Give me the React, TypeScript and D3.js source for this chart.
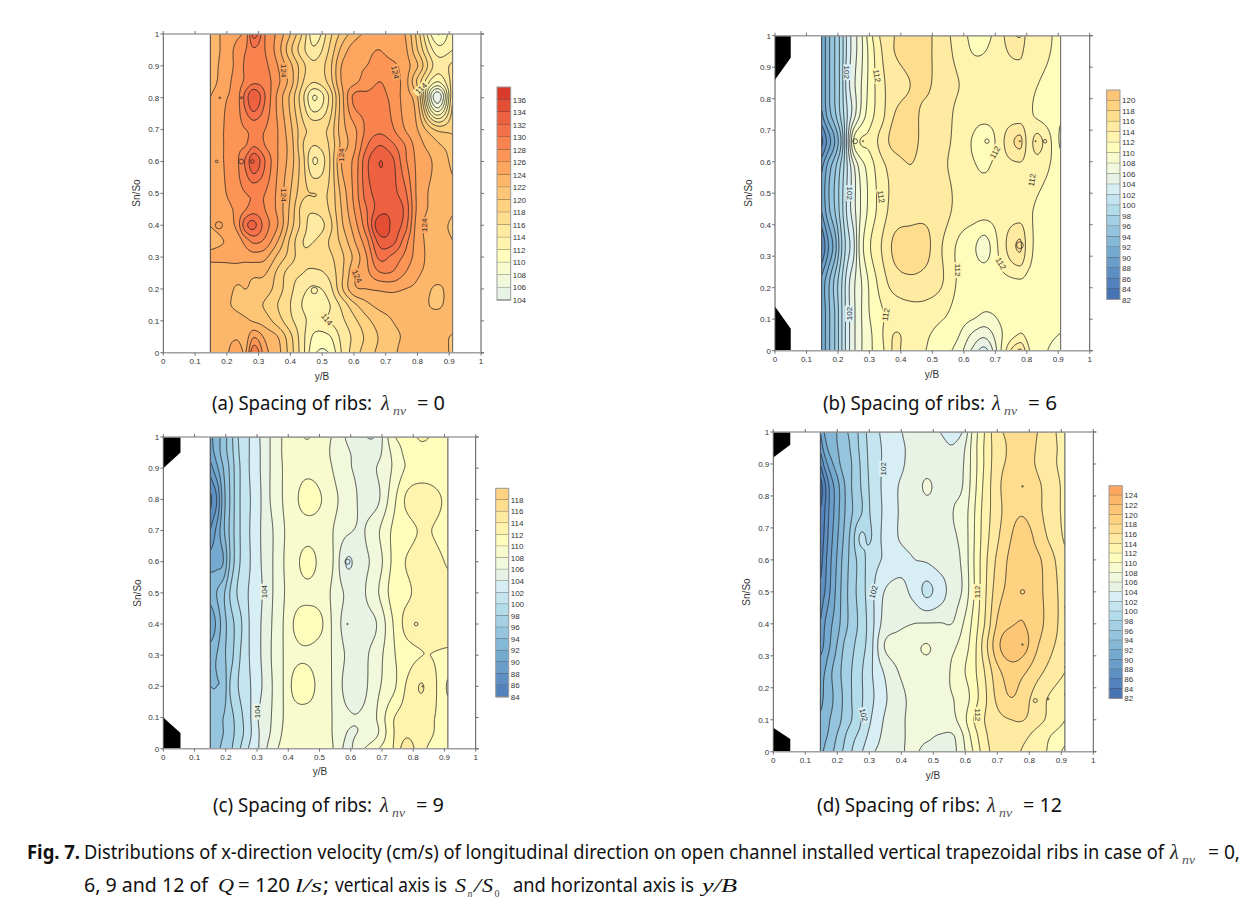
import React from "react";
import * as d3 from "d3";

// ---------- colour bands (lower bound of each band -> fill) ----------
const bandLevels = [80,82,84,86,88,90,92,94,96,98,100,102,104,106,108,110,112,114,116,118,120,122,124,126,128,130,132,134,136];
const bandColors = ["#3f6db0","#4674b3","#5281bb","#5e8fc3","#6a9dca","#75aad0","#85b7d7","#94c4de","#a3d0e5","#b2dcea","#c4e5f0","#d8eef5","#e8f3e6","#f1f8dc","#f8fbcd","#fffdbb","#fff3ad","#feeaa0","#fede8e","#fed280","#fdc576","#fdb76a","#fda65f","#fb9455","#f8834e","#f47048","#ed6040","#e34e35","#d93b2a"];

const tickValues = [0,0.1,0.2,0.3,0.4,0.5,0.6,0.7,0.8,0.9,1];

// ---------- panel (a) ----------
const aX = [.148,.19,.23,.26,.285,.32,.36,.40,.44,.475,.52,.56,.60,.64,.68,.72,.76,.80,.86,.91];
const aY = [1,.95,.9,.85,.8,.7,.65,.6,.5,.45,.4,.35,.3,.25,.2,.15,.1,.05,0];
const aZ = [
[122.5,124.5,125.5,127,133,128,125.5,122,117.5,112.5,117,120.5,123,124.5,125,125,124,119,110,113.5],
[122.8,124.5,126.5,128,129.7,128,125,120.5,116.5,114.5,118,122.5,125,125.5,126,125,124.5,120,113,114],
[123,124.7,126.5,128.5,129.5,128.5,126,122.5,118.5,116.5,119,124,125.5,126,127,126.5,125,122,115,116.5],
[123,125,126.8,128.5,129.6,129,126.5,123,118,116.1,118.5,124,125.5,127,128,127,125,119.5,112,117],
[124,125.7,127,131,134,130,125.5,121.5,116.3,111.8,116,123,128.5,128.5,128.5,127.5,125,122,104.5,118],
[124.5,126,127.3,128,128.5,128,126,122.5,118.5,117.5,118.3,123,125.5,128.5,129.5,128.3,126,124,119.6,119.6],
[124.8,126,127.5,128,129.8,128,126,123,118,116,118,122.5,125.5,129.8,132,130.5,128,125,122.5,121],
[124.8,126,127.5,130.5,133.6,130,126,123,118.5,113.8,117.5,124,126.5,131.5,134,132.5,128.5,125.5,123.5,121.5],
[124.3,125.7,127.2,128,128.3,128,125.5,122,118.5,118,118.2,122.5,126.5,131,132.8,132.6,130.5,125.5,123.3,122.5],
[124,125,126.5,128,129,128,125.5,121.5,117,116.5,118,122,126,130,133,133.4,131.5,125.5,123.3,122.2],
[124,124.7,126.5,131.5,132.5,129,126,121,117,114.8,117,121.5,125,129.5,135.5,133.5,131,125,122.8,121.7],
[123.5,124,124.5,127,128.5,127.5,124,119.5,116,116,118,120.5,123.8,127.5,132.8,132.8,129,125,122.8,122],
[124.3,124.4,124.5,124.8,125,124.5,121.5,119,116.5,117,117.5,119.5,122.5,126,130.5,129.5,127.5,125,122.7,122.1],
[123,123,123,122.5,122.4,122.2,119.5,117,116,115.5,116.5,119.5,123.5,125.5,127.8,127.8,126,124.3,123,122.8],
[122.8,123,121.8,122,121.5,121,119,116.5,114.5,113.7,115,119.5,123.5,124,124.3,124.5,124,123.5,121.7,123],
[122.5,122.3,121.7,121,120.5,119.8,118,116,113.8,112.8,113.8,116.5,119.5,121.5,122.6,122.8,122.8,122.8,121.7,123],
[122.5,122.7,122.7,122.3,121.8,121,119,116.5,114.5,113,114,115.5,117.5,119.5,121,122,122.5,122.8,122.9,123],
[122.7,123.2,123.7,123.2,125.8,123.6,122,118.5,114.5,111.6,111.7,114.5,116.5,118.5,120.2,121.5,122.2,122.5,122.7,121.8],
[122.5,123,125.5,124,130,124.8,122.8,119,114.5,110.3,110,114,117,119,120.5,121.5,122.7,122.7,124,121.2],
];

// ---------- panel (b) ----------
const bX = [.148,.17,.19,.21,.23,.25,.27,.3,.34,.38,.43,.48,.53,.58,.63,.67,.72,.78,.805,.84,.91];
const bY = [1,.95,.85,.75,.665,.58,.45,.33,.22,.12,.05,0];
const bZ = [
[90,93.5,96,98.8,102.5,105,107,111,114.5,116,116.8,116.5,115,113.2,111.5,111.3,113.5,116.2,113,113.6,110.8],
[90,93.5,96,98.8,102.5,105,107,110.5,114,116,116.8,116.5,115,113.5,111.9,112,113.5,114.5,113,113,111],
[90,93.5,96,98.8,103,105.5,107.5,110.5,113.5,115,116,116.4,115,114.1,113.4,113.3,113.2,113,112.8,112,110.8],
[89.5,93,95.5,98.5,102,105,108,111,113.4,116,116.5,115.5,114.8,113.7,113,113,113,112.8,112.5,111.5,110.3],
[85.5,89,92,96,103,110,112,112.5,114.8,116.7,116.8,115.2,114.4,113.6,111.8,110.2,113.4,116.5,113.5,114.6,109.6],
[89.5,93,95.5,98.5,102,105.5,108.5,110.8,113.4,114.8,115.9,115,114.3,113.5,112.3,111.8,113,113.4,113,112.8,111],
[90,93.5,96,99,102.5,105.2,107.8,110.5,113,114.8,115.2,115.4,115,113.5,113,112.9,112.8,112.6,112.3,111.7,110.7],
[86,90,93,97.5,101,103.5,108.5,111.7,114.1,116.4,117,116.6,114.1,111.8,110.4,109.2,112.8,116.3,113,111.5,111],
[90.5,93.5,96.5,99.5,103,105.5,107.5,110.3,113,115,115.6,115.2,114.2,111.9,111.5,111.4,111.5,111.8,111.6,111.5,110.8],
[90,93.5,96,99.5,103,105.5,107.5,110,111.8,112.8,113.2,113.2,112.5,111.3,110.7,109.9,110.5,111.3,111.3,111,110.8],
[90,93.5,96,99.5,103,105.5,107.5,109.5,111.8,114.1,113.2,112.3,111.2,110.3,107.6,106.6,109.8,112.2,111.5,110.8,109.9],
[90,93.5,96,99.5,103,105.5,107.5,109.5,111.5,114.3,112.8,112,110.8,109.3,105.5,103.3,110,116.5,112.5,110.8,109],
];

// ---------- panel (c) ----------
const cX = [.15,.171,.192,.213,.24,.272,.304,.342,.384,.421,.464,.507,.544,.587,.64,.683,.736,.779,.832,.912];
const cY = [1,.95,.9,.8,.7,.6,.5,.4,.3,.2,.1,.05,0];
const cZ = [
[91.5,93,95,97,100,101.8,103.7,106,108.2,109.3,110.1,108.7,107.8,105.8,104.2,104.3,109.6,110.8,112.3,110.1],
[91,92.8,95,96.8,99.8,101.8,103.6,106,108.2,109.1,109.4,108.9,107.6,106.3,105.2,105.2,108.5,110.5,111.3,110.5],
[89,91.5,94,96.3,99.5,101.8,103.6,106,108.1,109.2,109.5,109,107.9,106.4,105.5,106,108.2,110.2,110.8,110.7],
[85.5,88,93,96,99.5,101.6,103.4,106,108.1,109.6,110.8,110,108.5,107.2,105.5,105.5,109.3,112.3,113.2,111.5],
[88,90.5,93.5,96.3,99.5,101.7,103.6,105.5,107.8,109,109.3,109,108,106.4,105.9,107.5,110.3,111.2,112.2,111.2],
[91,91.3,92,96,99.5,101.6,103.5,105.5,107.9,109.4,110.7,109.3,108,103.9,105.5,106.8,110.4,112.1,113,111.8],
[93,94,95.5,98,100.3,102,103.3,105.5,107.8,109.2,109.5,109,107.6,105.7,105.8,107.6,110.8,111.6,112.8,112.6],
[90,92.5,95,97,99,101.8,103.5,105.7,108,110.2,110.9,110.2,107.6,105.2,105.4,106,110,112.6,113.2,112.5],
[93.5,94,95.5,97,99.5,101.8,103.5,105.8,108,109.5,109.7,108.9,107.8,105.8,105.6,107,109.7,111.2,112,111.7],
[94,94,94.5,98,100,101.6,103.3,105.6,108,110.6,110.8,109,107.8,105.4,105.5,107.5,109.5,112.2,114.05,109.7],
[94,95,96,97.2,99,101.3,104,105.8,108,109,109.1,108.7,107.9,106.3,106.3,108,111.8,112.8,112.6,111.2],
[94.5,95.2,96,97.2,98.8,101.2,103.8,106,108.2,109,109,108.6,107.9,106,106.3,107.6,111.8,113.6,112.6,111.2],
[94.5,95.5,96.5,97.5,99.5,102,103.9,106.7,108.6,109,109,108.8,108,105.6,107.8,109.7,112,115,112.3,111],
];

// ---------- panel (d) ----------
const dX = [.147,.161,.177,.198,.219,.245,.271,.302,.344,.391,.438,.479,.521,.563,.594,.625,.661,.703,.745,.786,.833,.913];
const dY = [1,.95,.9,.83,.75,.67,.6,.5,.4,.33,.25,.17,.1,.05,0];
const dZ = [
[90,92.3,93,94,95.5,96.5,98.5,100.7,102.4,103.7,104.7,104.6,104,103.3,104.2,108.5,112,115.5,116.3,117,115.8,113],
[88.5,91,92.7,93.8,95,96.3,98.3,100.5,102.2,103.5,104.5,105,104.6,104.2,105.5,108.8,112.2,115.2,116.3,117,115.6,113.3],
[86,88.8,91,93,94.8,96,98,100.4,102.2,103.5,104.6,105,105,105.1,105.9,108.8,112.2,115.3,116.4,117,115.5,113.3],
[83,85.5,88.5,91,93.5,96,97.8,100.2,102.3,104,104.8,106.3,105.3,105.6,106.1,109,112.5,115.5,117.3,117.9,116.2,113.5],
[84,86,88.5,91,93.5,95.8,97.5,100,102.2,104,104.6,105,105.4,106,106.8,109.5,112.8,115.3,117.4,117.8,116.3,113.5],
[84.5,86.5,89,91.5,94,96.8,100.2,99.8,102.4,104,104.6,105,105.5,105.8,106.7,109.6,113,115.8,118,119,117,113.7],
[85,87.2,89.5,92,94.5,96.8,98.8,100.8,102.2,103.4,103.95,104.2,105,105.4,106.5,109.7,113.3,116.5,118.5,119.3,118.2,114.5],
[86.5,88,90,92.5,94.8,97,98.8,101,103.9,104.6,103.5,101.6,103,105.1,106.3,109.6,113.5,117.2,118.7,119.6,118.4,115],
[88,90,91.5,93,95,96.8,98.5,100.8,104.5,105.5,106,106.1,106.1,106.1,108,110.5,114,118.4,119.8,120,118.5,115],
[89,90.5,92,94,96,97.5,99,101,105.8,107,107.6,108.1,107.5,107.7,109,111,115,119.5,121.5,120.6,117.8,114.8],
[91.5,92,93.5,95,96.5,98,99.5,101.5,104,106,107,107.3,107.4,108.3,109.7,111.3,114,117.5,118.9,118.2,116.4,114],
[91.5,92.3,93.3,94.8,96.2,98,99.5,101.3,103.5,105.3,106.6,107.6,107.7,108,108.8,110.8,113.5,116.6,118,116.8,114.8,112.5],
[92.3,92.8,94,95,96.5,98,99.7,101.8,104,105.5,106.5,107.2,107.3,107.6,109.2,111.8,114,115.5,116,116,114.5,112],
[93,93.6,94.5,96,97.5,99.3,100.5,102.5,104.3,105.6,106.3,106.3,105.9,105.9,108,110.8,113.5,115.4,115.8,114.5,113,110.8],
[93.5,94.3,95.3,96.7,98.2,100,101.5,103.5,104.6,105.7,106.2,105.6,105.5,105.5,107.5,110,113,115,115.2,113.5,112.8,109.5],
];

// ---------- contour labels: [y/B, Sn/So, rotation, text, level] ----------
const aLabels = [[.38,.885,90,"124",124],[.38,.495,90,"124",124],[.56,.62,-90,"124",124],[.61,.24,65,"124",124],[.82,.4,-90,"124",124],[.73,.88,78,"124",124],[.515,.105,50,"114",114],[.81,.83,-45,"114",114]];
const bLabels = [[.23,.884,90,"102",102],[.238,.5,90,"102",102],[.235,.118,-90,"102",102],[.325,.873,80,"112",112],[.338,.489,80,"112",112],[.352,.115,-80,"112",112],[.583,.256,90,"112",112],[.70,.63,-60,"112",112],[.72,.277,60,"112",112],[.818,.542,-80,"112",112]];
const cLabels = [[.322,.504,-90,"104",104],[.299,.119,-90,"104",104]];
const dLabels = [[.342,.885,-90,"102",102],[.3125,.5,-75,"102",102],[.283,.115,75,"102",102],[.6375,.5,-90,"112",112],[.64,.115,90,"112",112]];

// tiny closed contours around single survey points: [y/B, Sn/So, radius]
const aRings = [[.175,.4,3.6],[.245,.6,2.4],[.168,.6,1.3],[.178,.8,.9],[.246,.8,1.1],[.28,.6,1.8],[.19,.205,0],[.475,.195,3.2]];
const bRings = [[.255,.665,2.4],[.28,.665,.6],[.675,.665,2.2],[.78,.665,.6],[.83,.665,.6],[.86,.665,1.8],[.25,.33,0],[.78,.335,3.4]];
const cRings = [[.81,.4,1.8],[.59,.4,.7],[.83,.2,.6],[.59,.6,2.6]];
const dRings = [[.78,.83,.8],[.78,.5,2.2],[.78,.335,.8],[.82,.16,2],[.86,.165,1],[.915,.45,1],[.915,.335,1],[.915,.265,1],[.915,.18,1]];

// black trapezoids, as [y/B, Sn/So]
const bRibs = [[[0,1],[.05,1],[.05,.93],[0,.86]],[[0,0],[.05,0],[.05,.07],[0,.14]]];
const cRibs = [[[0,1],[.055,1],[.055,.95],[0,.9]],[[0,0],[.055,0],[.055,.05],[0,.1]]];
const dRibs = [[[0,1],[.053,1],[.053,.96],[0,.92]],[[0,0],[.053,0],[.053,.04],[0,.075]]];

const FONT = "'Liberation Sans', Arial, sans-serif";
const CAP = "'Noto Sans', sans-serif";
const SERIF = "'Liberation Serif', serif";

function bandColor(v: number) {
  const i = Math.max(0, d3.bisectRight(bandLevels, v) - 1);
  return bandColors[i];
}

// Catmull-Rom style cubic through unevenly spaced samples
function cubic(xs: number[], vs: number[], x: number) {
  const n = xs.length;
  const asc = xs[n - 1] > xs[0];
  let i = 0;
  while (i < n - 2 && (asc ? x > xs[i + 1] : x < xs[i + 1])) i++;
  const h = xs[i + 1] - xs[i];
  const t = Math.max(0, Math.min(1, (x - xs[i]) / h));
  const slope = (k: number) => {
    if (k === 0) return (vs[1] - vs[0]) / (xs[1] - xs[0]);
    if (k === n - 1) return (vs[n - 1] - vs[n - 2]) / (xs[n - 1] - xs[n - 2]);
    return (vs[k + 1] - vs[k - 1]) / (xs[k + 1] - xs[k - 1]);
  };
  const t2 = t * t, t3 = t2 * t;
  return (2*t3-3*t2+1)*vs[i] + (t3-2*t2+t)*h*slope(i) + (-2*t3+3*t2)*vs[i+1] + (t3-t2)*h*slope(i+1);
}

function fineField(X: number[], Y: number[], Z: number[][], nx: number, ny: number) {
  const x0 = X[0], x1 = X[X.length - 1];
  const fx = d3.range(nx).map(i => x0 + (x1 - x0) * (i + 0.5) / nx);
  const fy = d3.range(ny).map(j => 1 - (j + 0.5) / ny);
  const byRow = Z.map(r => fx.map(x => cubic(X, r, x)));
  const out = new Array(nx * ny);
  for (let i = 0; i < nx; i++) {
    const col = byRow.map(r => r[i]);
    for (let j = 0; j < ny; j++) out[j * nx + i] = cubic(Y, col, fy[j]);
  }
  return out;
}

type PanelProps = {
  id: string; X: number[]; Y: number[]; Z: number[][];
  labels: any[]; rings: number[][]; ribs?: number[][][];
  left: number; right: number; top: number; bottom: number; xEnd: number;
  legend: [number, number, number, number]; legendLevels: number[];
  ylab: [number, number]; xlab: [number, number];
};

function Panel(p: PanelProps) {
  const x = d3.scaleLinear().domain([0, 1]).range([p.left, p.right]);
  const y = d3.scaleLinear().domain([0, 1]).range([p.bottom, p.top]);
  const rx0 = x(p.X[0]), rx1 = p.xEnd;
  const x2 = (v: number) => rx0 + (v - p.X[0]) / (p.X[p.X.length - 1] - p.X[0]) * (rx1 - rx0);
  const nx = Math.round(rx1 - rx0), ny = Math.round(p.bottom - p.top);
  const field = fineField(p.X, p.Y, p.Z, nx, ny);
  const conts = d3.contours().size([nx, ny]).smooth(true).thresholds(bandLevels)(field);
  const path = d3.geoPath();
  const clip = `clip-${p.id}`;
  const sx = (rx1 - rx0) / nx, sy = (p.bottom - p.top) / ny;
  const lvls = [...p.legendLevels].sort((a, b) => b - a);
  const [lx, ly, lw, lh] = p.legend;
  const cell = lh / lvls.length;
  const tc = "#555";
  return (
    <g>
      <defs><clipPath id={clip}><rect x={rx0} y={p.top} width={rx1 - rx0} height={p.bottom - p.top} /></clipPath></defs>
      <g clipPath={`url(#${clip})`}>
        <rect x={rx0} y={p.top} width={rx1 - rx0} height={p.bottom - p.top} fill={bandColors[0]} />
        <g transform={`translate(${rx0},${p.top}) scale(${sx},${sy})`}>
          {conts.map((c, i) => c.coordinates.length ? (
            <path key={i} d={path(c as any) || ""} fill={bandColors[i]} stroke="#222" strokeWidth={0.9} vectorEffect="non-scaling-stroke" strokeOpacity={0.9} />
          ) : null)}
        </g>
        {p.rings.filter(r => r[2] > 0).map((r, i) => (
          <circle key={i} cx={x2(r[0])} cy={y(r[1])} r={r[2]} fill="none" stroke="#222" strokeWidth={0.8} strokeOpacity={0.9} />
        ))}
      </g>
      {p.labels.map((l, i) => (
        <g key={i} transform={`translate(${x2(l[0])},${y(l[1])}) rotate(${l[2]})`}>
          <rect x={-8} y={-4} width={16} height={8} fill={bandColor(l[4])} />
          <text textAnchor="middle" y={3} fontSize={8} fontFamily={FONT} fill="#333">{l[3]}</text>
        </g>
      ))}
      {(p.ribs || []).map((r, i) => (
        <polygon key={i} points={r.map(q => `${x(q[0])},${y(q[1])}`).join(" ")} fill="#000" />
      ))}
      {/* frame */}
      <line x1={rx0} x2={rx0} y1={p.top} y2={p.bottom} stroke="#555" strokeWidth={1} />
      <line x1={rx1} x2={rx1} y1={p.top} y2={p.bottom} stroke="#777" strokeWidth={1} />
      <line x1={p.left} x2={p.left} y1={p.top} y2={p.bottom} stroke={tc} strokeWidth={1} />
      <line x1={p.right} x2={p.right} y1={p.top} y2={p.bottom} stroke={tc} strokeWidth={1} />
      <line x1={p.left - 1} x2={p.right + 3} y1={p.top} y2={p.top} stroke="#a0a0a0" strokeWidth={1.6} />
      <line x1={p.left - 1} x2={p.right + 3} y1={p.bottom} y2={p.bottom} stroke="#a0a0a0" strokeWidth={1.6} />
      {tickValues.map(t => (
        <g key={t}>
          <line x1={x(t)} x2={x(t)} y1={p.bottom} y2={p.bottom + 3} stroke={tc} strokeWidth={0.8} />
          <line x1={x(t)} x2={x(t)} y1={p.top} y2={p.top - 3} stroke={tc} strokeWidth={0.8} />
          <line x1={p.left} x2={p.left - 3} y1={y(t)} y2={y(t)} stroke={tc} strokeWidth={0.8} />
          <line x1={p.right} x2={p.right + 3} y1={y(t)} y2={y(t)} stroke={tc} strokeWidth={0.8} />
          <text x={x(t)} y={p.bottom + 11} textAnchor="middle" fontSize={8} fontFamily={FONT} fill="#333">{t}</text>
          <text x={p.left - 4} y={y(t) + 2.8} textAnchor="end" fontSize={8} fontFamily={FONT} fill="#333">{t}</text>
        </g>
      ))}
      <text transform={`translate(${p.ylab[0]},${p.ylab[1]}) rotate(-90)`} textAnchor="middle" fontSize={10} fontFamily={FONT} fill="#333">Sn/So</text>
      <text x={p.xlab[0]} y={p.xlab[1]} textAnchor="middle" fontSize={10} fontFamily={FONT} fill="#333">y/B</text>
      {/* colour key */}
      {lvls.map((l, i) => (
        <g key={l}>
          <rect x={lx} y={ly + i * cell} width={lw} height={cell + 0.3} fill={bandColor(l)} />
          <line x1={lx} x2={lx + lw} y1={ly + (i + 1) * cell} y2={ly + (i + 1) * cell} stroke="#333" strokeWidth={0.8} strokeOpacity={0.8} />
          <text x={lx + lw + 2} y={ly + (i + 1) * cell + 3} fontSize={8} fontFamily={FONT} fill="#333">{l}</text>
        </g>
      ))}
      <rect x={lx} y={ly} width={lw} height={lh} fill="none" stroke="#999" strokeWidth={1} />
    </g>
  );
}

function Fit({ x, y, w, children, bold, size = 19, italic, family = CAP }: any) {
  return (
    <text x={x} y={y} textLength={w} lengthAdjust="spacingAndGlyphs" fontSize={size} fontFamily={family}
      fontWeight={bold ? 700 : 400} fontStyle={italic ? "italic" : "normal"} fill="#111">{children}</text>
  );
}

function Lambda({ x, y }: { x: number; y: number }) {
  return (
    <g>
      <text x={x} y={y} fontSize={20} fontFamily={SERIF} fontStyle="italic" fill="#222">λ</text>
      <text x={x + 12} y={y + 5} fontSize={12} fontFamily={SERIF} fontStyle="italic" fill="#555" textLength={13} lengthAdjust="spacingAndGlyphs">nv</text>
    </g>
  );
}

function Caption({ x, end, lam, eq, eqEnd, y, text, tail }: any) {
  return (
    <g>
      <Fit x={x} y={y} w={end - x}>{text}</Fit>
      <Lambda x={lam} y={y} />
      <Fit x={eq} y={y} w={eqEnd - eq}>{tail}</Fit>
    </g>
  );
}

const range = (a: number, b: number) => d3.range(a, b + 1, 2);

export default function App() {
  return (
    <svg width={1258} height={900} style={{ position: "absolute", left: 0, top: 0, background: "#fff" }}>
      <Panel id="a" X={aX} Y={aY} Z={aZ} labels={aLabels} rings={aRings} left={163.3} right={481} top={34} bottom={352.7} xEnd={452.7}
        legend={[497, 87, 13.7, 213]} legendLevels={range(104, 136)} ylab={[140, 193]} xlab={[322, 380]} />
      <Panel id="b" X={bX} Y={bY} Z={bZ} labels={bLabels} rings={bRings} ribs={bRibs} left={775} right={1089.7} top={35.7} bottom={350.7} xEnd={1060.7}
        legend={[1106.7, 90, 13.3, 209.5]} legendLevels={range(82, 120)} ylab={[752, 193]} xlab={[932, 378]} />
      <Panel id="c" X={cX} Y={cY} Z={cZ} labels={cLabels} rings={cRings} ribs={cRibs} left={163.3} right={475.7} top={437} bottom={748.7} xEnd={448}
        legend={[495.7, 488.3, 13, 208.5]} legendLevels={range(84, 118)} ylab={[141, 593]} xlab={[320, 775]} />
      <Panel id="d" X={dX} Y={dY} Z={dZ} labels={dLabels} rings={dRings} ribs={dRibs} left={773.3} right={1093.3} top={432} bottom={751.7} xEnd={1065}
        legend={[1109, 485.7, 13.3, 212.6]} legendLevels={range(82, 124)} ylab={[750, 592]} xlab={[933, 779]} />

      <Caption x={212} end={372} lam={381} eq={417} eqEnd={445} y={410} text="(a) Spacing of ribs:" tail="= 0" />
      <Caption x={823} end={985} lam={992} eq={1028} eqEnd={1057} y={410} text="(b) Spacing of ribs:" tail="= 6" />
      <Caption x={213} end={372} lam={380} eq={416} eqEnd={444} y={812} text="(c) Spacing of ribs:" tail="= 9" />
      <Caption x={817} end={980} lam={987} eq={1023} eqEnd={1062} y={812} text="(d) Spacing of ribs:" tail="= 12" />

      <Fit x={27} y={859} w={53} bold>Fig. 7.</Fit>
      <Fit x={84} y={859} w={1080}>Distributions of x-direction velocity (cm/s) of longitudinal direction on open channel installed vertical trapezoidal ribs in case of</Fit>
      <Lambda x={1170} y={859} />
      <Fit x={1208} y={859} w={32}>= 0,</Fit>

      <Fit x={84} y={892} w={124}>6, 9 and 12 of</Fit>
      <Fit x={218} y={892} w={16} italic family={SERIF}>Q</Fit>
      <Fit x={238} y={892} w={52}>= 120</Fit>
      <Fit x={295} y={892} w={27} italic family={SERIF}>l/s</Fit>
      <Fit x={323} y={892} w={6}>;</Fit>
      <Fit x={335} y={892} w={112}>vertical axis is</Fit>
      <Fit x={455} y={892} w={11} italic family={SERIF}>S</Fit>
      <text x={467.5} y={897} fontSize={10} fontFamily={SERIF} fontStyle="italic" fill="#444">n</text>
      <Fit x={474} y={892} w={7} italic family={SERIF}>/</Fit>
      <Fit x={482} y={892} w={11} italic family={SERIF}>S</Fit>
      <text x={494.5} y={897} fontSize={10} fontFamily={SERIF} fill="#444">0</text>
      <Fit x={513} y={892} w={181}>and horizontal axis is</Fit>
      <Fit x={702} y={892} w={35} italic family={SERIF}>y/B</Fit>
    </svg>
  );
}
